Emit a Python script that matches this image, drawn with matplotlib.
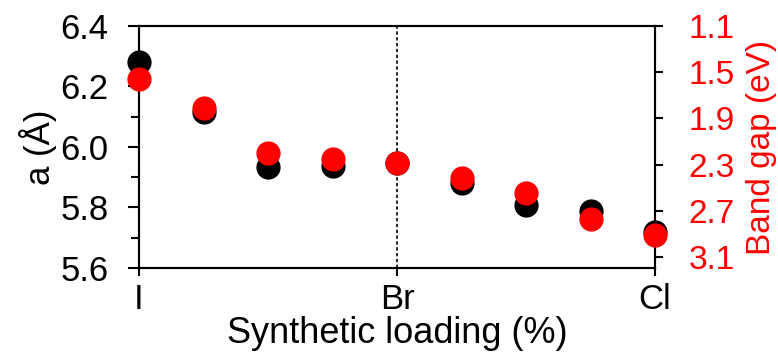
import numpy as np
import matplotlib
matplotlib.use("Agg")
from matplotlib import pyplot as plt
from matplotlib.ticker import MultipleLocator

plt.rcParams['font.family'] = ['Liberation Sans', 'DejaVu Sans']

# halide loading, I -> Br -> Cl
loading = [0, 12.5, 25, 37.5, 50, 62.5, 75, 87.5, 100]
lattice_a = [6.282, 6.117, 5.935, 5.936, 5.946, 5.880, 5.808, 5.790, 5.720]
band_gap = [1.56, 1.81, 2.20, 2.25, 2.29, 2.42, 2.55, 2.77, 2.91]

tick_pos = [0, 50, 100]
tick_labels = ["I", "Br", "Cl"]

fig = plt.figure(figsize=(7.78, 3.58), dpi=100)
ax = fig.add_axes([0.1787, 0.2514, 0.6633, 0.676])
ax2 = ax.twinx()

ax.scatter(loading, lattice_a, s=270, color='black', zorder=3, clip_on=False)
ax2.scatter(loading, band_gap, s=270, color='red', zorder=4, clip_on=False)

ax.axvline(50, color='black', linestyle=(0, (2, 1.5)), linewidth=1.2, zorder=1)

ax.set_xlim(0, 100)
ax.set_ylim(5.6, 6.4)
ax2.set_ylim(3.195, 1.1)

ax.set_xticks(tick_pos)
ax.set_xticklabels(tick_labels)
ax.yaxis.set_major_locator(MultipleLocator(0.2))
ax.yaxis.set_minor_locator(MultipleLocator(0.1))
ax.yaxis.set_major_formatter(plt.FormatStrFormatter('%.1f'))
ax2.set_yticks([1.1, 1.5, 1.9, 2.3, 2.7, 3.1])
ax2.yaxis.set_major_formatter(plt.FormatStrFormatter('%.1f'))

fs = 25
ax.tick_params(axis='y', which='major', direction='out', length=8, width=1.5,
               labelsize=fs, pad=14)
ax.tick_params(axis='y', which='minor', direction='out', length=6, width=1.5)
ax.tick_params(axis='x', direction='out', length=6, width=1.5, labelsize=fs, pad=5)
ax2.tick_params(axis='y', direction='out', length=6, width=1.5, labelsize=24,
                pad=18, colors='black', labelcolor='red')

for a in (ax, ax2):
    for sp in a.spines.values():
        sp.set_linewidth(1.5)

ax.set_xlabel("Synthetic loading (%)", fontsize=26, labelpad=0)
ax.set_ylabel("a (Å)", fontsize=fs, labelpad=2)
ax2.set_ylabel("Band gap (eV)", fontsize=24, color='red')
ax2.yaxis.set_label_coords(1.176, 0.5)

fig.savefig("out.png", dpi=100)
